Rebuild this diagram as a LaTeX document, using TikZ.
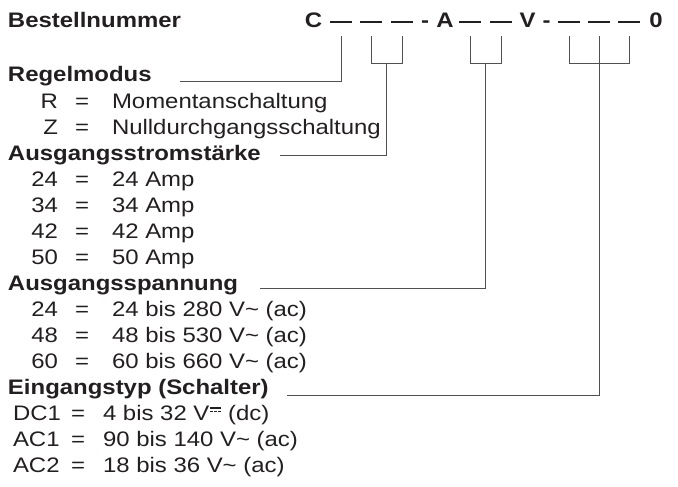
\documentclass[tikz,border=0pt]{standalone}
\usepackage{fontspec}
\setmainfont{Liberation Sans}[FakeStretch=1.14]
\usepackage{tikz}
\usetikzlibrary{calc}
\definecolor{ink}{RGB}{35,31,32}
\definecolor{leader}{RGB}{80,80,80}
\newcommand{\dcsign}{\makebox[11pt][l]{\raisebox{11.5pt}{\rule{11pt}{1.2pt}}\hspace*{-11pt}\raisebox{8pt}{\rule{3pt}{1.2pt}\hspace*{1pt}\rule{3pt}{1.2pt}\hspace*{1pt}\rule{3pt}{1.2pt}}}}

\begin{document}
\begin{tikzpicture}[x=1pt,y=-1pt,
    every node/.style={inner sep=0pt, outer sep=0pt, text=ink, font=\fontsize{21}{24}\selectfont},
    head/.style={anchor=base west, font=\fontsize{21}{24}\selectfont\bfseries},
    code/.style={anchor=base, font=\fontsize{21}{24}\selectfont\bfseries},
    slot/.style={fill=ink, minimum width=22pt, minimum height=2.6pt},
    key/.style={anchor=base east},
    keyl/.style={anchor=base west},
    eq/.style={anchor=base},
    val/.style={anchor=base west},
    lead/.style={draw=leader, line width=1pt}]
    %% Background
    \useasboundingbox (0,0) rectangle (678,487);
    %% Order code
    \node[head] (order) at (8,28) {Bestellnummer};
    \node[code] (cC) at (313.5,28) {C};
    \node[slot] (d1) at (341,22) {};
    \node[slot] (d2) at (371,22) {};
    \node[slot] (d3) at (402,22) {};
    \node[code] (h1) at (425,28) {-};
    \node[code] (cA) at (445,28) {A};
    \node[slot] (d4) at (470,22) {};
    \node[slot] (d5) at (501,22) {};
    \node[code] (cV) at (527.5,28) {V};
    \node[code] (h2) at (546.5,28) {-};
    \node[slot] (d6) at (569,22) {};
    \node[slot] (d7) at (599,22) {};
    \node[slot] (d8) at (629,22) {};
    \node[code] (c0) at (656,28) {0};
    %% Regelmodus
    \node[head] (reg) at (8,82) {Regelmodus};
    \node[key] (kR) at (58,108) {R};
    \node[eq] (qR) at (82,108) {=};
    \node[val] (vR) at (112,108) {Momentanschaltung};
    \node[key] (kZ) at (58,134) {Z};
    \node[eq] (qZ) at (82,134) {=};
    \node[val] (vZ) at (112,134) {Nulldurchgangsschaltung};
    %% Ausgangsstrom
    \node[head] (amp) at (8,160) {Ausgangsstromstärke};
    \node[key] (kA1) at (58,186) {24};
    \node[eq] (qA1) at (82,186) {=};
    \node[val] (vA1) at (112,186) {24 Amp};
    \node[key] (kA2) at (58,212) {34};
    \node[eq] (qA2) at (82,212) {=};
    \node[val] (vA2) at (112,212) {34 Amp};
    \node[key] (kA3) at (58,238) {42};
    \node[eq] (qA3) at (82,238) {=};
    \node[val] (vA3) at (112,238) {42 Amp};
    \node[key] (kA4) at (58,264) {50};
    \node[eq] (qA4) at (82,264) {=};
    \node[val] (vA4) at (112,264) {50 Amp};
    %% Ausgangsspannung
    \node[head] (volt) at (8,290) {Ausgangsspannung};
    \node[key] (kV1) at (58,316) {24};
    \node[eq] (qV1) at (82,316) {=};
    \node[val] (vV1) at (112,316) {24 bis 280 V\textasciitilde\ (ac)};
    \node[key] (kV2) at (58,342) {48};
    \node[eq] (qV2) at (82,342) {=};
    \node[val] (vV2) at (112,342) {48 bis 530 V\textasciitilde\ (ac)};
    \node[key] (kV3) at (58,368) {60};
    \node[eq] (qV3) at (82,368) {=};
    \node[val] (vV3) at (112,368) {60 bis 660 V\textasciitilde\ (ac)};
    %% Eingangstyp
    \node[head] (inp) at (8,394) {Eingangstyp (Schalter)};
    \node[keyl] (kI1) at (13,420) {DC1};
    \node[eq] (qI1) at (78,420) {=};
    \node[val] (vI1) at (103,420) {4 bis 32 V\hspace{1pt}\dcsign\ (dc)};
    \node[keyl] (kI2) at (13,446) {AC1};
    \node[eq] (qI2) at (78,446) {=};
    \node[val] (vI2) at (103,446) {90 bis 140 V\textasciitilde\ (ac)};
    \node[keyl] (kI3) at (13,472) {AC2};
    \node[eq] (qI3) at (78,472) {=};
    \node[val] (vI3) at (103,472) {18 bis 36 V\textasciitilde\ (ac)};
    %% Leaders
    \coordinate (top) at (0,36);
    \coordinate (bot) at (0,63.5);
    \coordinate (e1) at (180,82);
    \coordinate (e2) at (280,155);
    \coordinate (e3) at (260,288);
    \coordinate (e4) at (287,395);
    \draw[lead] (e1) -| (d1 |- top);
    \draw[lead] (d2 |- top) |- (d3 |- bot) -- (d3 |- top);
    \draw[lead] ($(d2 |- bot)!.5!(d3 |- bot)$) |- (e2);
    \draw[lead] (d4 |- top) |- (d5 |- bot) -- (d5 |- top);
    \draw[lead] ($(d4 |- bot)!.5!(d5 |- bot)$) |- (e3);
    \draw[lead] (d6 |- top) |- (d8 |- bot) -- (d8 |- top);
    \draw[lead] (d7 |- top) |- (e4);
\end{tikzpicture}
\end{document}
